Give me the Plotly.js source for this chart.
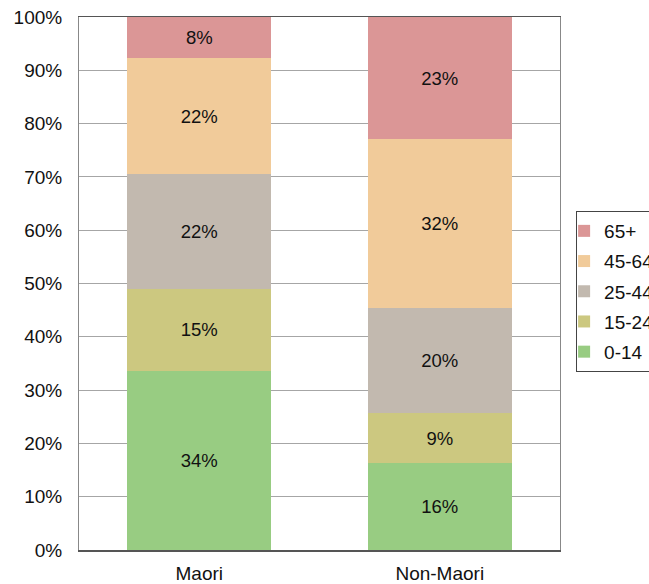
<!DOCTYPE html>
<html>
<head>
<meta charset="utf-8">
<script src="https://cdn.plot.ly/plotly-3.0.1.min.js"></script>
<style>html,body{margin:0;padding:0;background:#fff;}#chart{width:649px;height:584px;}</style>
</head>
<body>
<div id="chart"></div>
<script>
var categories = ["Maori", "Non-Maori"];
var ageGroups = ["0-14", "15-24", "25-44", "45-64", "65+"];
var share_0_14  = [33.6, 16.3];
var share_15_24 = [15.4, 9.4];
var share_25_44 = [21.5, 19.7];
var share_45_64 = [21.8, 31.7];
var share_65p   = [7.7, 22.9];
var yTickVals = [0, 10, 20, 30, 40, 50, 60, 70, 80, 90, 100];
var yTickText = ["0%", "10%", "20%", "30%", "40%", "50%", "60%", "70%", "80%", "90%", "100%"];

var seriesValues = [share_0_14, share_15_24, share_25_44, share_45_64, share_65p];
var colors = ["#98CC82", "#CCC880", "#C2B9AF", "#F1CB9A", "#DB9696"];
var FONT = "Liberation Sans, Arial, sans-serif";

var traces = ageGroups.map(function (g, i) {
  return {
    type: "bar",
    name: g,
    x: categories,
    y: seriesValues[i],
    text: seriesValues[i].map(function (v) { return Math.round(v) + "%"; }),
    textposition: "inside",
    insidetextanchor: "middle",
    textangle: 0,
    textfont: {family: FONT, size: 18.5, color: "#111"},
    marker: {color: colors[i], line: {width: 0}},
    legendgroup: g,
    legendrank: ageGroups.length - i,
    hoverinfo: "none"
  };
});

var layout = {
  width: 649,
  height: 584,
  barmode: "stack",
  bargap: 0.4,
  paper_bgcolor: "#fff",
  plot_bgcolor: "#fff",
  font: {family: FONT, size: 19, color: "#111"},
  margin: {l: 79, r: 89, t: 17, b: 34, autoexpand: false},
  showlegend: true,
  legend: {
    x: 1.0335, xanchor: "left",
    y: 0.636, yanchor: "top",
    traceorder: "grouped",
    tracegroupgap: 2.5,
    indentation: -13,
    bgcolor: "#fff",
    bordercolor: "#444",
    borderwidth: 1,
    font: {family: FONT, size: 19, color: "#111"}
  },
  xaxis: {
    type: "category",
    showline: true, linecolor: "#555", linewidth: 1.5, mirror: true,
    ticks: "", showgrid: false,
    ticklabelstandoff: 6,
    tickfont: {size: 19}
  },
  yaxis: {
    range: [0, 100],
    tickmode: "array", tickvals: yTickVals, ticktext: yTickText,
    showline: true, linecolor: "#888", linewidth: 1, mirror: true,
    showgrid: true, gridcolor: "#a6a6a6", gridwidth: 1,
    zeroline: false, ticks: "",
    ticklabelstandoff: 12,
    tickfont: {size: 19}
  }
};

Plotly.newPlot("chart", traces, layout, {displayModeBar: false, staticPlot: true});
</script>
</body>
</html>
